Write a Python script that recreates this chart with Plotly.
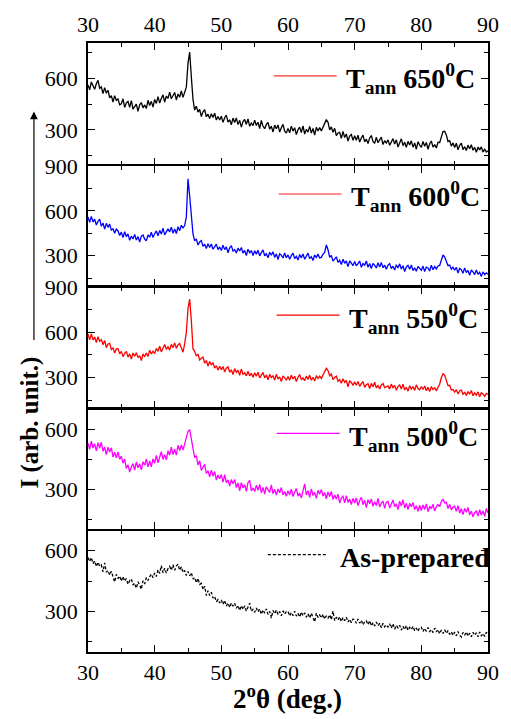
import numpy as np
import plotly.graph_objects as go

# XRD scans, 2-theta from 30 to 90 deg in 0.25 deg steps
two_theta = np.round(np.arange(30.0, 90.0001, 0.25), 2)

i_650 = [
    562, 534, 580, 553, 538, 570, 590, 543, 551, 512, 547, 514, 532, 488, 500, 463, 500, 473, 481, 447,
    453, 482, 431, 458, 466, 432, 471, 421, 436, 451, 408, 447, 460, 429, 446, 425, 473, 443, 467, 433,
    478, 455, 495, 457, 483, 505, 463, 498, 484, 521, 482, 499, 519, 475, 510, 491, 528, 490, 518, 550,
    690, 755, 610, 478, 416, 438, 404, 420, 378, 406, 419, 377, 392, 366, 395, 372, 398, 358, 378, 358,
    380, 344, 371, 386, 345, 359, 330, 369, 343, 370, 331, 356, 316, 349, 361, 332, 364, 321, 340, 325,
    356, 326, 345, 308, 355, 321, 307, 332, 344, 304, 322, 288, 328, 307, 329, 287, 313, 332, 293, 281,
    309, 283, 322, 293, 313, 273, 301, 316, 284, 324, 276, 303, 287, 321, 281, 308, 270, 315, 294, 313,
    294, 316, 334, 360, 345, 300, 318, 286, 309, 266, 282, 286, 250, 291, 255, 276, 235, 264, 273, 239,
    266, 239, 269, 229, 253, 270, 230, 246, 220, 253, 267, 233, 221, 257, 225, 244, 258, 214, 237, 223,
    242, 210, 234, 249, 217, 242, 200, 226, 248, 208, 228, 198, 233, 212, 236, 199, 224, 187, 231, 211,
    198, 233, 204, 227, 187, 219, 235, 199, 214, 194, 228, 225, 260, 290, 292, 271, 232, 237, 205, 224,
    197, 222, 184, 210, 223, 185, 202, 180, 211, 190, 213, 181, 198, 169, 199, 183, 201, 171, 187, 171,
    178,
]

i_600 = [
    560, 523, 564, 526, 545, 506, 530, 545, 497, 519, 478, 517, 490, 512, 471, 480, 450, 479, 466, 435,
    458, 422, 461, 427, 446, 403, 431, 412, 443, 405, 428, 392, 431, 439, 412, 400, 439, 424, 457, 422,
    447, 466, 434, 470, 445, 485, 440, 466, 480, 460, 491, 451, 479, 449, 494, 468, 504, 487, 502, 560,
    815, 700, 560, 446, 400, 413, 372, 393, 401, 363, 377, 348, 381, 355, 379, 344, 359, 378, 341, 359,
    335, 370, 341, 359, 320, 353, 368, 331, 342, 318, 351, 332, 355, 318, 336, 302, 344, 320, 335, 301,
    334, 311, 337, 299, 321, 339, 300, 313, 287, 324, 303, 327, 289, 313, 275, 313, 304, 285, 318, 287,
    306, 277, 301, 318, 281, 296, 271, 309, 286, 312, 277, 301, 318, 281, 294, 268, 305, 289, 311, 286,
    289, 311, 323, 372, 340, 290, 302, 264, 283, 293, 256, 270, 242, 277, 250, 265, 227, 265, 251, 234,
    262, 233, 248, 265, 223, 249, 236, 265, 223, 248, 214, 249, 236, 218, 254, 224, 256, 220, 237, 210,
    238, 248, 214, 230, 204, 240, 218, 246, 211, 233, 194, 225, 236, 209, 238, 201, 220, 196, 229, 212,
    203, 231, 195, 224, 218, 198, 237, 207, 228, 212, 232, 235, 270, 305, 292, 267, 234, 238, 210, 224,
    203, 223, 184, 216, 207, 183, 219, 187, 202, 170, 205, 192, 174, 205, 176, 190, 162, 192, 174, 186,
    176,
]

i_550 = [
    590, 550, 590, 550, 569, 533, 572, 541, 552, 518, 546, 498, 523, 527, 486, 497, 463, 490, 492, 457,
    474, 439, 461, 474, 436, 457, 422, 463, 441, 464, 432, 445, 413, 457, 438, 463, 439, 481, 456, 475,
    459, 494, 474, 508, 470, 498, 519, 487, 504, 482, 520, 499, 530, 494, 518, 526, 502, 468, 525, 600,
    760, 822, 680, 490, 474, 442, 456, 417, 428, 436, 395, 413, 376, 407, 383, 399, 363, 379, 349, 375,
    352, 373, 337, 362, 371, 335, 351, 320, 359, 334, 349, 315, 356, 321, 331, 311, 342, 311, 328, 302,
    332, 309, 335, 297, 316, 334, 297, 316, 285, 321, 299, 313, 282, 321, 290, 304, 273, 310, 298, 282,
    306, 281, 315, 290, 308, 273, 302, 320, 284, 297, 278, 309, 287, 316, 282, 301, 276, 312, 293, 309,
    294, 316, 335, 362, 346, 312, 323, 286, 300, 309, 275, 286, 261, 292, 268, 280, 238, 279, 265, 249,
    271, 248, 274, 241, 259, 273, 234, 252, 259, 227, 261, 239, 268, 231, 247, 224, 250, 259, 232, 236,
    244, 224, 256, 232, 247, 216, 239, 250, 223, 256, 217, 235, 209, 245, 224, 240, 214, 251, 227, 218,
    240, 220, 244, 212, 235, 206, 239, 220, 231, 214, 240, 255, 300, 325, 315, 286, 246, 248, 217, 220,
    203, 219, 191, 210, 217, 189, 201, 181, 207, 189, 213, 179, 197, 182, 204, 172, 198, 190, 175, 194,
    187,
]

i_500 = [
    530, 499, 541, 506, 527, 492, 533, 506, 535, 490, 511, 473, 510, 486, 507, 461, 485, 457, 487, 449,
    466, 430, 451, 404, 422, 386, 411, 428, 396, 436, 407, 427, 397, 437, 420, 451, 412, 441, 412, 452,
    430, 469, 432, 464, 488, 449, 473, 447, 493, 470, 511, 473, 500, 471, 520, 494, 521, 496, 530, 553,
    590, 598, 554, 510, 458, 468, 421, 442, 394, 410, 424, 379, 392, 362, 395, 365, 388, 346, 371, 352,
    373, 335, 373, 333, 346, 315, 348, 327, 349, 308, 331, 292, 333, 306, 322, 289, 333, 344, 291, 307,
    288, 320, 294, 324, 282, 309, 275, 312, 299, 284, 321, 277, 300, 270, 301, 282, 308, 271, 288, 264,
    292, 271, 300, 263, 284, 303, 265, 280, 256, 295, 326, 271, 292, 259, 301, 268, 284, 254, 294, 275,
    298, 265, 283, 252, 286, 263, 289, 248, 271, 250, 275, 231, 256, 264, 231, 268, 234, 250, 223, 254,
    231, 256, 218, 243, 259, 222, 244, 208, 247, 227, 251, 214, 237, 218, 254, 210, 230, 240, 204, 235,
    239, 206, 231, 246, 212, 226, 198, 240, 216, 247, 206, 229, 198, 229, 212, 233, 198, 217, 189, 219,
    193, 221, 198, 226, 187, 214, 201, 225, 191, 213, 223, 212, 238, 250, 231, 235, 203, 224, 196, 209,
    215, 189, 217, 180, 202, 172, 203, 184, 208, 171, 190, 161, 181, 192, 165, 197, 170, 191, 164, 203,
    180,
]

i_asprep = [
    567, 547, 567, 537, 550, 522, 544, 524, 530, 496, 540, 494, 503, 480, 499, 475, 446, 484, 463, 475,
    450, 473, 450, 463, 435, 453, 461, 431, 440, 415, 447, 431, 410, 452, 436, 468, 453, 472, 485, 467,
    490, 473, 506, 488, 527, 491, 514, 490, 512, 523, 504, 531, 504, 524, 534, 504, 521, 493, 503, 478,
    498, 477, 492, 460, 469, 442, 464, 434, 439, 408, 425, 379, 403, 379, 395, 366, 375, 348, 359, 342,
    357, 335, 355, 327, 342, 320, 342, 326, 341, 316, 330, 305, 329, 310, 328, 302, 318, 341, 301, 311,
    296, 317, 298, 313, 286, 308, 292, 313, 286, 301, 268, 305, 289, 307, 285, 300, 279, 303, 287, 300,
    301, 278, 295, 280, 302, 277, 291, 273, 297, 279, 293, 272, 289, 268, 292, 274, 249, 292, 270, 283,
    268, 287, 263, 279, 266, 284, 260, 302, 255, 272, 258, 274, 250, 270, 255, 272, 248, 262, 245, 263,
    260, 242, 263, 243, 257, 234, 250, 255, 235, 255, 229, 245, 229, 248, 230, 242, 220, 242, 224, 234,
    223, 239, 218, 240, 213, 232, 219, 232, 208, 227, 211, 231, 207, 222, 211, 227, 205, 218, 202, 221,
    222, 201, 217, 202, 221, 201, 211, 196, 218, 199, 211, 190, 208, 191, 210, 192, 206, 187, 199, 182,
    198, 180, 201, 183, 174, 197, 183, 199, 178, 193, 175, 197, 183, 195, 175, 199, 179, 191, 177, 198,
    186,
]

# panel order: top to bottom
series = [i_650, i_600, i_550, i_500, i_asprep]
colors = ["#000000", "#0000ff", "#ff0000", "#ff00ff", "#000000"]
dashes = ["solid", "solid", "solid", "solid", "3px,2px"]
y_ranges = [[98, 808], [100, 901], [98, 901], [100, 700], [100, 700]]
legend_labels = [
    "<b>T<sub>ann</sub> 650<sup>0</sup>C</b>",
    "<b>T<sub>ann</sub> 600<sup>0</sup>C</b>",
    "<b>T<sub>ann</sub> 550<sup>0</sup>C</b>",
    "<b>T<sub>ann</sub> 500<sup>0</sup>C</b>",
    "<b>As-prepared</b>",
]
legend_colors = ["#ff3030", "#ff2020", "#ff0000", "#ff00ff", "#000000"]

FONT = "Liberation Serif"
W, H = 511, 719
ML, MR, MT, MB = 88, 16, 39, 67
PW, PH = W - ML - MR, H - MT - MB
LW = 1.5  # frame line width

def px_x(x):
    return (x - ML) / PW

def px_y(y):
    return (H - MB - y) / PH

fig = go.Figure()
n = len(series)
# panel boundaries in pixels (top edge of each panel, then bottom of last)
edges_px = [39, 162, 284, 407, 529, 652]
half = (LW / 2) / PH

for k in range(n):
    idx = "" if k == 0 else str(k + 1)
    top = px_y(edges_px[k]) - (half if k > 0 else 0)
    bot = px_y(edges_px[k + 1]) + (half if k < n - 1 else 0)
    fig.add_trace(go.Scatter(
        x=two_theta, y=series[k], mode="lines",
        line=dict(color=colors[k], width=1.3, dash=dashes[k]),
        xaxis="x" + idx, yaxis="y" + idx, showlegend=False,
    ))
    common = dict(
        showline=True, linecolor="black", linewidth=LW, mirror="ticks",
        ticks="inside", ticklen=7, tickwidth=1.2, tickcolor="black",
        showgrid=False, zeroline=False,
        tickfont=dict(family=FONT, size=22, color="black"),
        minor=dict(ticks="inside", ticklen=4, tickwidth=1.2, tickcolor="black", showgrid=False),
    )
    xa = dict(common, range=[30, 90], dtick=10, tick0=30, anchor="y" + idx,
              domain=[0, 1], minor=dict(common["minor"], dtick=5))
    if k == 0:
        xa.update(side="top", showticklabels=True)
    elif k == n - 1:
        xa.update(side="bottom", showticklabels=True)
    else:
        xa.update(showticklabels=False)
    if k > 0:
        xa["matches"] = "x"
    ya = dict(common, range=y_ranges[k], dtick=300, tick0=0, anchor="x" + idx,
              domain=[max(bot, 0), min(top, 1)], ticklabelstandoff=4,
              minor=dict(common["minor"], dtick=150))
    fig.layout["xaxis" + idx] = xa
    fig.layout["yaxis" + idx] = ya

# legend keys per panel
line_pos = [(277, 341, 72), (282, 346, 191), (280, 344, 313), (280, 344, 432), (271, 330, 554)]
text_left = [348, 354, 352, 352, 342]
shapes = []
annotations = []
for k in range(n):
    x0, x1, yy = line_pos[k]
    shapes.append(dict(
        type="line", xref="paper", yref="paper",
        x0=px_x(x0), x1=px_x(x1), y0=px_y(yy), y1=px_y(yy),
        line=dict(color=legend_colors[k], width=1.2, dash=dashes[k]),
    ))
    annotations.append(dict(
        xref="paper", yref="paper", x=px_x(text_left[k]), y=px_y(yy + 3),
        xanchor="left", yanchor="middle", showarrow=False,
        text=legend_labels[k], font=dict(family=FONT, size=28, color="black"),
    ))

# y title and upward arrow
annotations.append(dict(
    xref="paper", yref="paper", x=px_x(28), y=px_y(421), textangle=-90,
    xanchor="center", yanchor="middle", showarrow=False,
    text="<b>I (arb. unit.)</b>", font=dict(family=FONT, size=25, color="black"),
))
annotations.append(dict(
    xref="paper", yref="paper", x=px_x(33), y=px_y(108), text="",
    showarrow=True, axref="pixel", ayref="pixel", ax=0, ay=230,
    arrowhead=2, arrowsize=1.3, arrowwidth=1.2, arrowcolor="black",
))
# x title
annotations.append(dict(
    xref="paper", yref="paper", x=px_x(291), y=px_y(697),
    xanchor="center", yanchor="middle", showarrow=False,
    text="<b>2<sup>o</sup>\u03b8 (deg.)</b>", font=dict(family=FONT, size=27, color="black"),
))

fig.update_layout(
    width=W, height=H,
    margin=dict(l=ML, r=MR, t=MT, b=MB),
    paper_bgcolor="white", plot_bgcolor="white",
    showlegend=False, shapes=shapes, annotations=annotations,
    font=dict(family=FONT),
)

fig.write_html("out.html")
